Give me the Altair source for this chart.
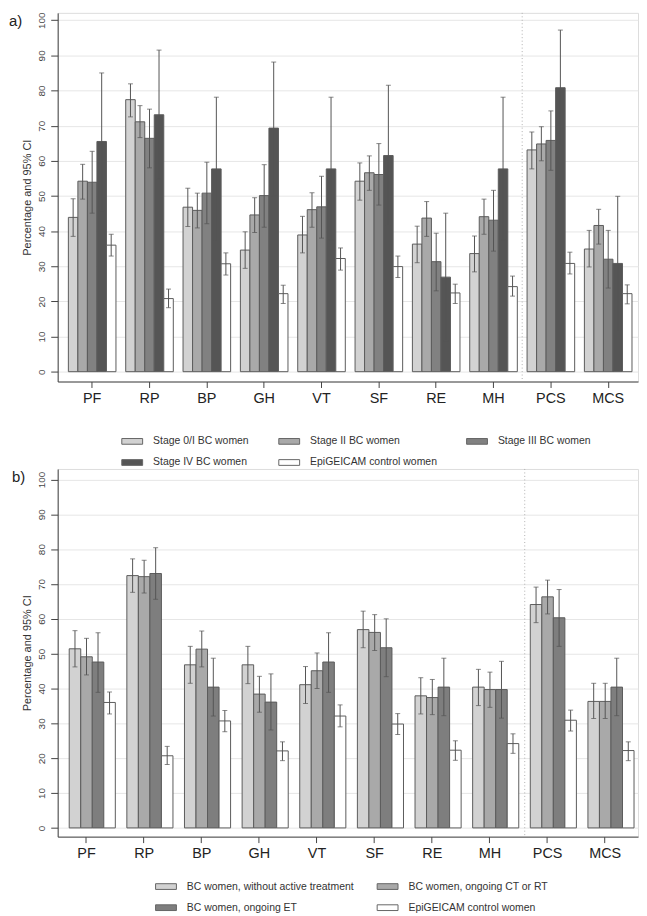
import altair as alt
import pandas as pd

cats = ["PF", "RP", "BP", "GH", "VT", "SF", "RE", "MH", "PCS", "MCS"]

# ---- Panel a) ----
series_a = ["Stage 0/I BC women", "Stage II BC women", "Stage III BC women",
            "Stage IV BC women", "EpiGEICAM control women"]
colors_a = ["#d2d2d2", "#a9a9a9", "#818181", "#555555", "#ffffff"]

val_a = {
    "PF":  [43.9, 54.2, 53.9, 65.5, 36.0],
    "RP":  [77.4, 71.1, 66.4, 73.1, 20.8],
    "BP":  [46.8, 45.9, 50.8, 57.7, 30.7],
    "GH":  [34.6, 44.6, 50.1, 69.3, 22.2],
    "VT":  [38.9, 46.1, 46.9, 57.7, 32.2],
    "SF":  [54.2, 56.6, 56.1, 61.5, 29.9],
    "RE":  [36.3, 43.7, 31.3, 26.9, 22.4],
    "MH":  [33.6, 44.1, 43.1, 57.7, 24.2],
    "PCS": [63.1, 64.8, 65.8, 80.8, 30.8],
    "MCS": [34.9, 41.6, 32.0, 30.8, 22.2],
}
lo_a = {
    "PF":  [38.5, 49.1, 45.1, 45.8, 32.9],
    "RP":  [72.5, 66.6, 58.0, 54.7, 18.2],
    "BP":  [41.3, 40.9, 42.1, 37.2, 27.5],
    "GH":  [29.4, 39.6, 41.1, 50.1, 19.4],
    "VT":  [33.8, 41.1, 38.0, 37.5, 28.9],
    "SF":  [48.8, 51.6, 47.4, 41.6, 26.8],
    "RE":  [31.0, 38.5, 23.0, 8.8, 19.4],
    "MH":  [28.4, 39.1, 34.3, 37.5, 21.5],
    "PCS": [57.7, 60.0, 57.3, 64.5, 27.8],
    "MCS": [29.8, 36.3, 23.8, 11.7, 19.3],
}
hi_a = {
    "PF":  [49.2, 59.0, 62.7, 85.0, 39.1],
    "RP":  [81.9, 75.7, 74.7, 91.5, 23.5],
    "BP":  [52.2, 50.8, 59.6, 78.1, 33.8],
    "GH":  [39.8, 49.5, 58.9, 88.1, 24.6],
    "VT":  [44.2, 50.9, 55.6, 78.1, 35.2],
    "SF":  [59.4, 61.4, 64.9, 81.5, 32.9],
    "RE":  [41.4, 48.4, 39.4, 45.1, 24.9],
    "MH":  [38.6, 49.1, 51.6, 78.1, 27.2],
    "PCS": [68.2, 69.7, 74.2, 97.2, 34.0],
    "MCS": [40.2, 46.2, 40.2, 49.9, 24.7],
}

# ---- Panel b) ----
series_b = ["BC women, without active treatment", "BC women, ongoing CT or RT",
            "BC women, ongoing ET", "EpiGEICAM control women"]
colors_b = ["#d2d2d2", "#a9a9a9", "#7e7e7e", "#ffffff"]

val_b = {
    "PF":  [51.4, 49.1, 47.6, 36.0],
    "RP":  [72.4, 72.1, 73.0, 20.7],
    "BP":  [46.8, 51.3, 40.4, 30.7],
    "GH":  [46.8, 38.4, 36.1, 22.1],
    "VT":  [41.1, 45.1, 47.6, 32.1],
    "SF":  [56.9, 56.1, 51.7, 29.8],
    "RE":  [37.9, 37.4, 40.4, 22.3],
    "MH":  [40.4, 39.7, 39.7, 24.2],
    "PCS": [64.1, 66.3, 60.3, 30.9],
    "MCS": [36.3, 36.3, 40.4, 22.2],
}
lo_b = {
    "PF":  [46.2, 43.9, 38.9, 32.7],
    "RP":  [67.6, 67.4, 65.6, 18.2],
    "BP":  [41.5, 46.2, 32.1, 27.6],
    "GH":  [41.4, 33.2, 28.1, 19.3],
    "VT":  [35.7, 40.0, 38.9, 29.0],
    "SF":  [51.7, 50.9, 43.4, 26.8],
    "RE":  [32.7, 32.5, 32.2, 19.4],
    "MH":  [35.1, 34.6, 31.5, 21.4],
    "PCS": [58.9, 61.4, 52.1, 27.8],
    "MCS": [31.4, 31.4, 32.2, 19.3],
}
hi_b = {
    "PF":  [56.6, 54.4, 56.0, 39.0],
    "RP":  [77.2, 76.8, 80.4, 23.4],
    "BP":  [52.1, 56.5, 48.7, 33.7],
    "GH":  [52.1, 43.5, 44.2, 24.7],
    "VT":  [46.3, 50.2, 56.0, 35.3],
    "SF":  [62.2, 61.2, 60.0, 32.8],
    "RE":  [43.1, 42.6, 48.7, 25.0],
    "MH":  [45.5, 44.7, 47.8, 27.0],
    "PCS": [69.1, 71.1, 68.4, 33.8],
    "MCS": [41.5, 41.5, 48.7, 24.7],
}

y_ticks = list(range(0, 101, 10))
FONT = "Liberation Sans"
W = 584


def long_df(series, val, lo, hi):
    rows = []
    for c in cats:
        for i, s in enumerate(series):
            rows.append({"cat": c, "series": s, "value": val[c][i],
                         "lo": lo[c][i], "hi": hi[c][i]})
    return pd.DataFrame(rows)


def panel(df, series, colors, label, label_x, H, ydomain, xpad_inner, xpad_outer,
          xalign, offset_domain, legend_x, legend_y, legend_cols, sep_offset, col_pad):
    xscale = alt.Scale(paddingInner=xpad_inner, paddingOuter=xpad_outer, align=xalign)
    xaxis = alt.Axis(title=None, labelFontSize=14.5, labelColor="#222", labelFont=FONT,
                     domainColor="#444", tickColor="#444", tickSize=6,
                     labelPadding=4, labelAngle=0, grid=False)
    yscale = alt.Scale(domain=ydomain, nice=False, zero=False)
    yaxis = alt.Axis(values=y_ticks, labelAngle=270, labelAlign="center",
                     labelBaseline="bottom", labelFontSize=10, labelColor="#444",
                     labelFont=FONT, labelPadding=4, tickSize=7, tickColor="#444",
                     domainColor="#444", gridColor="#e6e6e6", grid=True,
                     title="Percentage and 95% CI", titleFontSize=11,
                     titleFontWeight="normal", titleColor="#333", titleFont=FONT,
                     titlePadding=4)

    def X():
        return alt.X("cat:N", sort=cats, scale=xscale, axis=xaxis)

    def XO():
        return alt.XOffset("series:N", sort=offset_domain,
                           scale=alt.Scale(domain=offset_domain, paddingInner=0,
                                           paddingOuter=0))

    def Y(field):
        return alt.Y(field, type="quantitative", scale=yscale, axis=yaxis,
                     title="Percentage and 95% CI")

    base = alt.Chart(df)
    bars = base.mark_bar(stroke="#5c5c5c", strokeWidth=1).encode(
        x=X(), xOffset=XO(), y=Y("value"), y2=alt.datum(0),
        color=alt.Color("series:N", sort=series,
                        scale=alt.Scale(domain=series, range=colors),
                        legend=alt.Legend(
                            title=None, orient="none", legendX=legend_x,
                            legendY=legend_y, columns=legend_cols,
                            direction="horizontal",
                            symbolType="M-2,-0.55H2V0.55H-2Z", symbolSize=110,
                            symbolStrokeColor="#666", symbolStrokeWidth=1,
                            labelFontSize=10.5, labelFont=FONT, labelColor="#333",
                            labelLimit=400, labelOffset=15, columnPadding=col_pad,
                            rowPadding=9.5, gridAlign="each", padding=0)),
    )
    rules = base.mark_rule(color="#555", strokeWidth=1).encode(
        x=X(), xOffset=XO(), y=Y("lo"), y2="hi:Q")
    cap_lo = base.mark_tick(color="#555", size=5, thickness=1, orient="horizontal").encode(
        x=X(), xOffset=XO(), y=Y("lo"))
    cap_hi = base.mark_tick(color="#555", size=5, thickness=1, orient="horizontal").encode(
        x=X(), xOffset=XO(), y=Y("hi"))

    one = alt.Chart(pd.DataFrame({"k": [0]}))
    sep = one.mark_rule(color="#b0b0b0", strokeDash=[1, 2.5], strokeWidth=1,
                        xOffset=sep_offset).encode(
        x=alt.X(datum="MH", type="nominal", bandPosition=1, scale=xscale, axis=xaxis),
        y=alt.value(0), y2=alt.value(H))
    tag = one.mark_text(text=label, align="left", baseline="middle", fontSize=15,
                        font=FONT, color="#222").encode(
        x=alt.value(label_x), y=alt.value(8))

    return alt.layer(sep, bars, rules, cap_lo, cap_hi, tag).properties(width=W, height=H)


df_a = long_df(series_a, val_a, lo_a, hi_a)
df_b = long_df(series_b, val_b, lo_b, hi_b)

top = panel(df_a, series_a, colors_a, "a)", -49, 371, [-2.8, 102.1], 0.17, 0.1456,
            0.64, series_a, 69, 425, 3, 4.9, 27)
bottom = panel(df_b, series_b, colors_b, "b)", -46, 370, [-2.5, 103], 0.0, 0.0345,
               0.0, ["_gap"] + series_b, 103, 414, 2, 6, 20)

chart = alt.vconcat(top, bottom, spacing=-2).resolve_scale(
    color="independent", x="independent", y="independent", xOffset="independent"
).resolve_legend(color="independent").properties(padding=0).configure_view(
    stroke=None
).configure(font=FONT)

chart.save("out.html", embed_options={"renderer": "svg", "actions": False})
